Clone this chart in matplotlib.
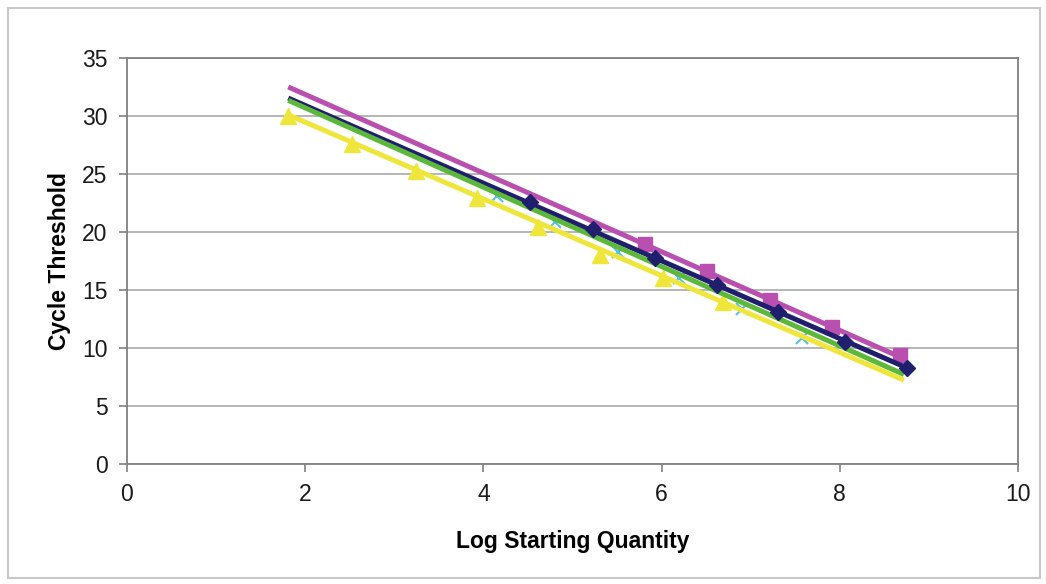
import numpy as np
import matplotlib
matplotlib.use("Agg")
from matplotlib import pyplot as plt
from matplotlib.patches import Rectangle

plt.rcParams['font.family'] = ['Liberation Sans', 'DejaVu Sans']

# Points (log quantité de départ, cycle seuil)
navy_x = [4.52, 5.23, 5.93, 6.62, 7.31, 8.06, 8.75]
navy_y = [22.6, 20.3, 17.8, 15.4, 13.1, 10.5, 8.3]

magenta_x = [5.81, 6.51, 7.22, 7.91, 8.68]
magenta_y = [19.0, 16.6, 14.1, 11.8, 9.4]

yellow_x = [1.81, 2.53, 3.24, 3.93, 4.61, 5.31, 6.02, 6.69]
yellow_y = [30.0, 27.6, 25.3, 22.9, 20.4, 18.0, 16.0, 14.0]

cyan_x = [4.15, 4.80, 5.51, 6.20, 6.90, 7.58]
cyan_y = [23.1, 20.9, 18.3, 16.0, 13.4, 10.9]

# droites de tendance lues (pente, ordonnée à l'origine) et étendue
trend_names = ["magenta", "navy", "green", "yellow"]
trend_slope = [-3.39, -3.35, -3.42, -3.31]
trend_icpt = [38.64, 37.61, 37.54, 36.09]
trend_x = [1.81, 8.72]

colors = {"navy": "#1f1f6e", "magenta": "#b94fae", "yellow": "#efe63c",
          "cyan": "#55c3e6", "green": "#5cb83a"}

fig = plt.figure(figsize=(10.46, 5.84), dpi=100)
ax = fig.add_axes([0.1214, 0.2055, 0.9732 - 0.1214, 0.9007 - 0.2055])

# cadre extérieur
fig.patches.append(Rectangle((8 / 1046, 6 / 584), 1032 / 1046, 570 / 584,
                             transform=fig.transFigure, fill=False,
                             edgecolor="#c8c8c8", linewidth=1.5))

ax.plot(magenta_x, magenta_y, linestyle="none", marker="s", markersize=10,
        color=colors["magenta"], zorder=3)
ax.plot(yellow_x, yellow_y, linestyle="none", marker="^", markersize=12,
        color=colors["yellow"], zorder=3)
ax.plot(cyan_x, cyan_y, linestyle="none", marker="x", markersize=8,
        markeredgewidth=1.5, color=colors["cyan"], zorder=3)

xt = np.array(trend_x)
for name, a, b in zip(trend_names, trend_slope, trend_icpt):
    ax.plot(xt, a * xt + b, color=colors[name], linewidth=3.6, zorder=4,
            solid_capstyle="butt")

ax.plot(navy_x, navy_y, linestyle="none", marker="D", markersize=8,
        color=colors["navy"], zorder=5)

ax.set_xlim(0, 10)
ax.set_ylim(0, 35)
ax.set_xticks(range(0, 11, 2))
ax.set_yticks(range(0, 36, 5))
ax.yaxis.grid(True, color="#b0b0b0", linewidth=1.3)
ax.set_axisbelow(True)
for s in ax.spines.values():
    s.set_color("#808080")
    s.set_linewidth(1.3)
ax.tick_params(labelsize=16.5, colors="#808080", labelcolor="#1a1a1a",
               length=6, width=1.2, pad=8)

ax.set_xlabel("Log Starting Quantity", fontsize=16.5, fontweight="bold",
              labelpad=17)
ax.set_ylabel("Cycle Threshold", fontsize=16.5, fontweight="bold",
              labelpad=8)

fig.savefig("out.png", dpi=100)
